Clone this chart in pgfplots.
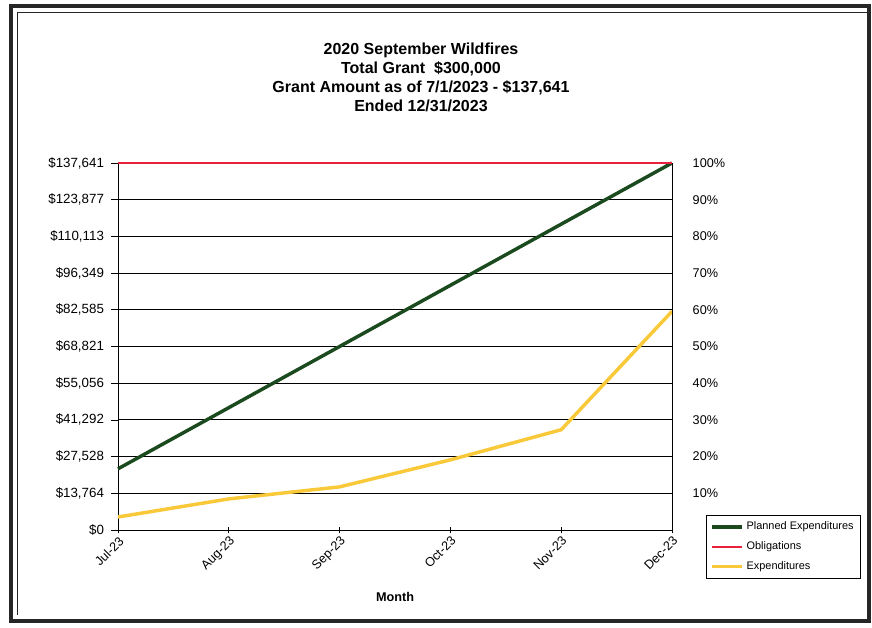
\documentclass[border=0pt]{standalone}
\usepackage{pgfplots}
\pgfplotsset{compat=1.18}
\usepackage{fontspec}
\setmainfont{Liberation Sans}
\definecolor{pgreen}{HTML}{1B4A1E}
\definecolor{ored}{HTML}{E8203C}
\definecolor{eyel}{HTML}{F9C93A}
\begin{document}
\begin{tikzpicture}
\begin{scope}[x=0.75pt,y=0.75pt]
\path[use as bounding box] (0,0) rectangle (872,628);
\end{scope}
\begin{axis}[
  at={(88.5pt,73.5pt)}, anchor=south west,
  scale only axis, width=415.5pt, height=275.25pt,
  xmin=0, xmax=5, ymin=0, ymax=137641,
  axis y line*=left, axis x line*=bottom,
  scaled y ticks=false,
  xtick={0,1,2,3,4,5},
  xticklabels={Jul-23,Aug-23,Sep-23,Oct-23,Nov-23,Dec-23},
  x tick label style={rotate=45, anchor=north east, font=\fontsize{9.5}{11}\selectfont, inner sep=1pt},
  xtick align=center, major tick length=5pt,
  ytick={0,13764.1,27528.2,41292.3,55056.4,68820.5,82584.6,96348.7,110112.8,123876.9,137641},
  yticklabels={{\$0},{\$13,764},{\$27,528},{\$41,292},{\$55,056},{\$68,821},{\$82,585},{\$96,349},{\$110,113},{\$123,877},{\$137,641}},
  ytick align=outside,
  y tick label style={font=\fontsize{10}{12}\selectfont, xshift=-2pt},
  ymajorgrids, grid style={black, line width=0.6pt},
  axis line style={black, line width=0.5pt},
  tick style={black, line width=0.5pt},
  xlabel={\textbf{Month}}, xlabel style={font=\fontsize{9.5}{11}\selectfont, yshift=-10pt},
  legend style={at={(1.061,0.041)}, anchor=north west, draw=black, line width=0.5pt, font=\fontsize{8.2}{9.5}\selectfont, row sep=3.5pt, inner sep=3pt},
  legend cell align=left,
  legend image code/.code={\draw[#1] (0cm,0cm) -- (0.8cm,0cm);},
  clip=false,
]
\addplot[pgreen, line width=2.6pt] coordinates {(0,22940) (1,45880) (2,68821) (3,91761) (4,114701) (5,137641)};
\addlegendentry{Planned Expenditures}
\addplot[ored, line width=1.4pt] coordinates {(0,137641) (1,137641) (2,137641) (3,137641) (4,137641) (5,137641)};
\addlegendentry{Obligations}
\addplot[eyel, line width=2.6pt] coordinates {(0,4876) (1,11660) (2,16170) (3,26300) (4,37600) (5,82000)};
\addlegendentry{Expenditures}
\end{axis}
\begin{axis}[
  at={(88.5pt,73.5pt)}, anchor=south west,
  scale only axis, width=415.5pt, height=275.25pt,
  xmin=0, xmax=5, ymin=0, ymax=1,
  axis y line*=right, axis x line=none,
  ytick={0.1,0.2,0.3,0.4,0.5,0.6,0.7,0.8,0.9,1},
  yticklabels={10\%,20\%,30\%,40\%,50\%,60\%,70\%,80\%,90\%,100\%},
  major tick length=0pt,
  y tick label style={font=\fontsize{9.5}{11}\selectfont, xshift=12pt},
  axis line style={black, line width=0.5pt},
]
\end{axis}
\begin{scope}[x=0.75pt,y=0.75pt]
\draw[line width=2.6pt, black!85] (11,7) rectangle (869,622);
\draw[line width=0.6pt, black!85] (17,13) -- (17,616) -- (869,616);
\node[align=center, font=\bfseries\fontsize{12}{14.2}\selectfont, anchor=north] at (421,628-38)
  {2020 September Wildfires\\Total Grant \ \$300,000\\Grant Amount as of 7/1/2023 - \$137,641\\Ended 12/31/2023};
\end{scope}
\end{tikzpicture}
\end{document}
